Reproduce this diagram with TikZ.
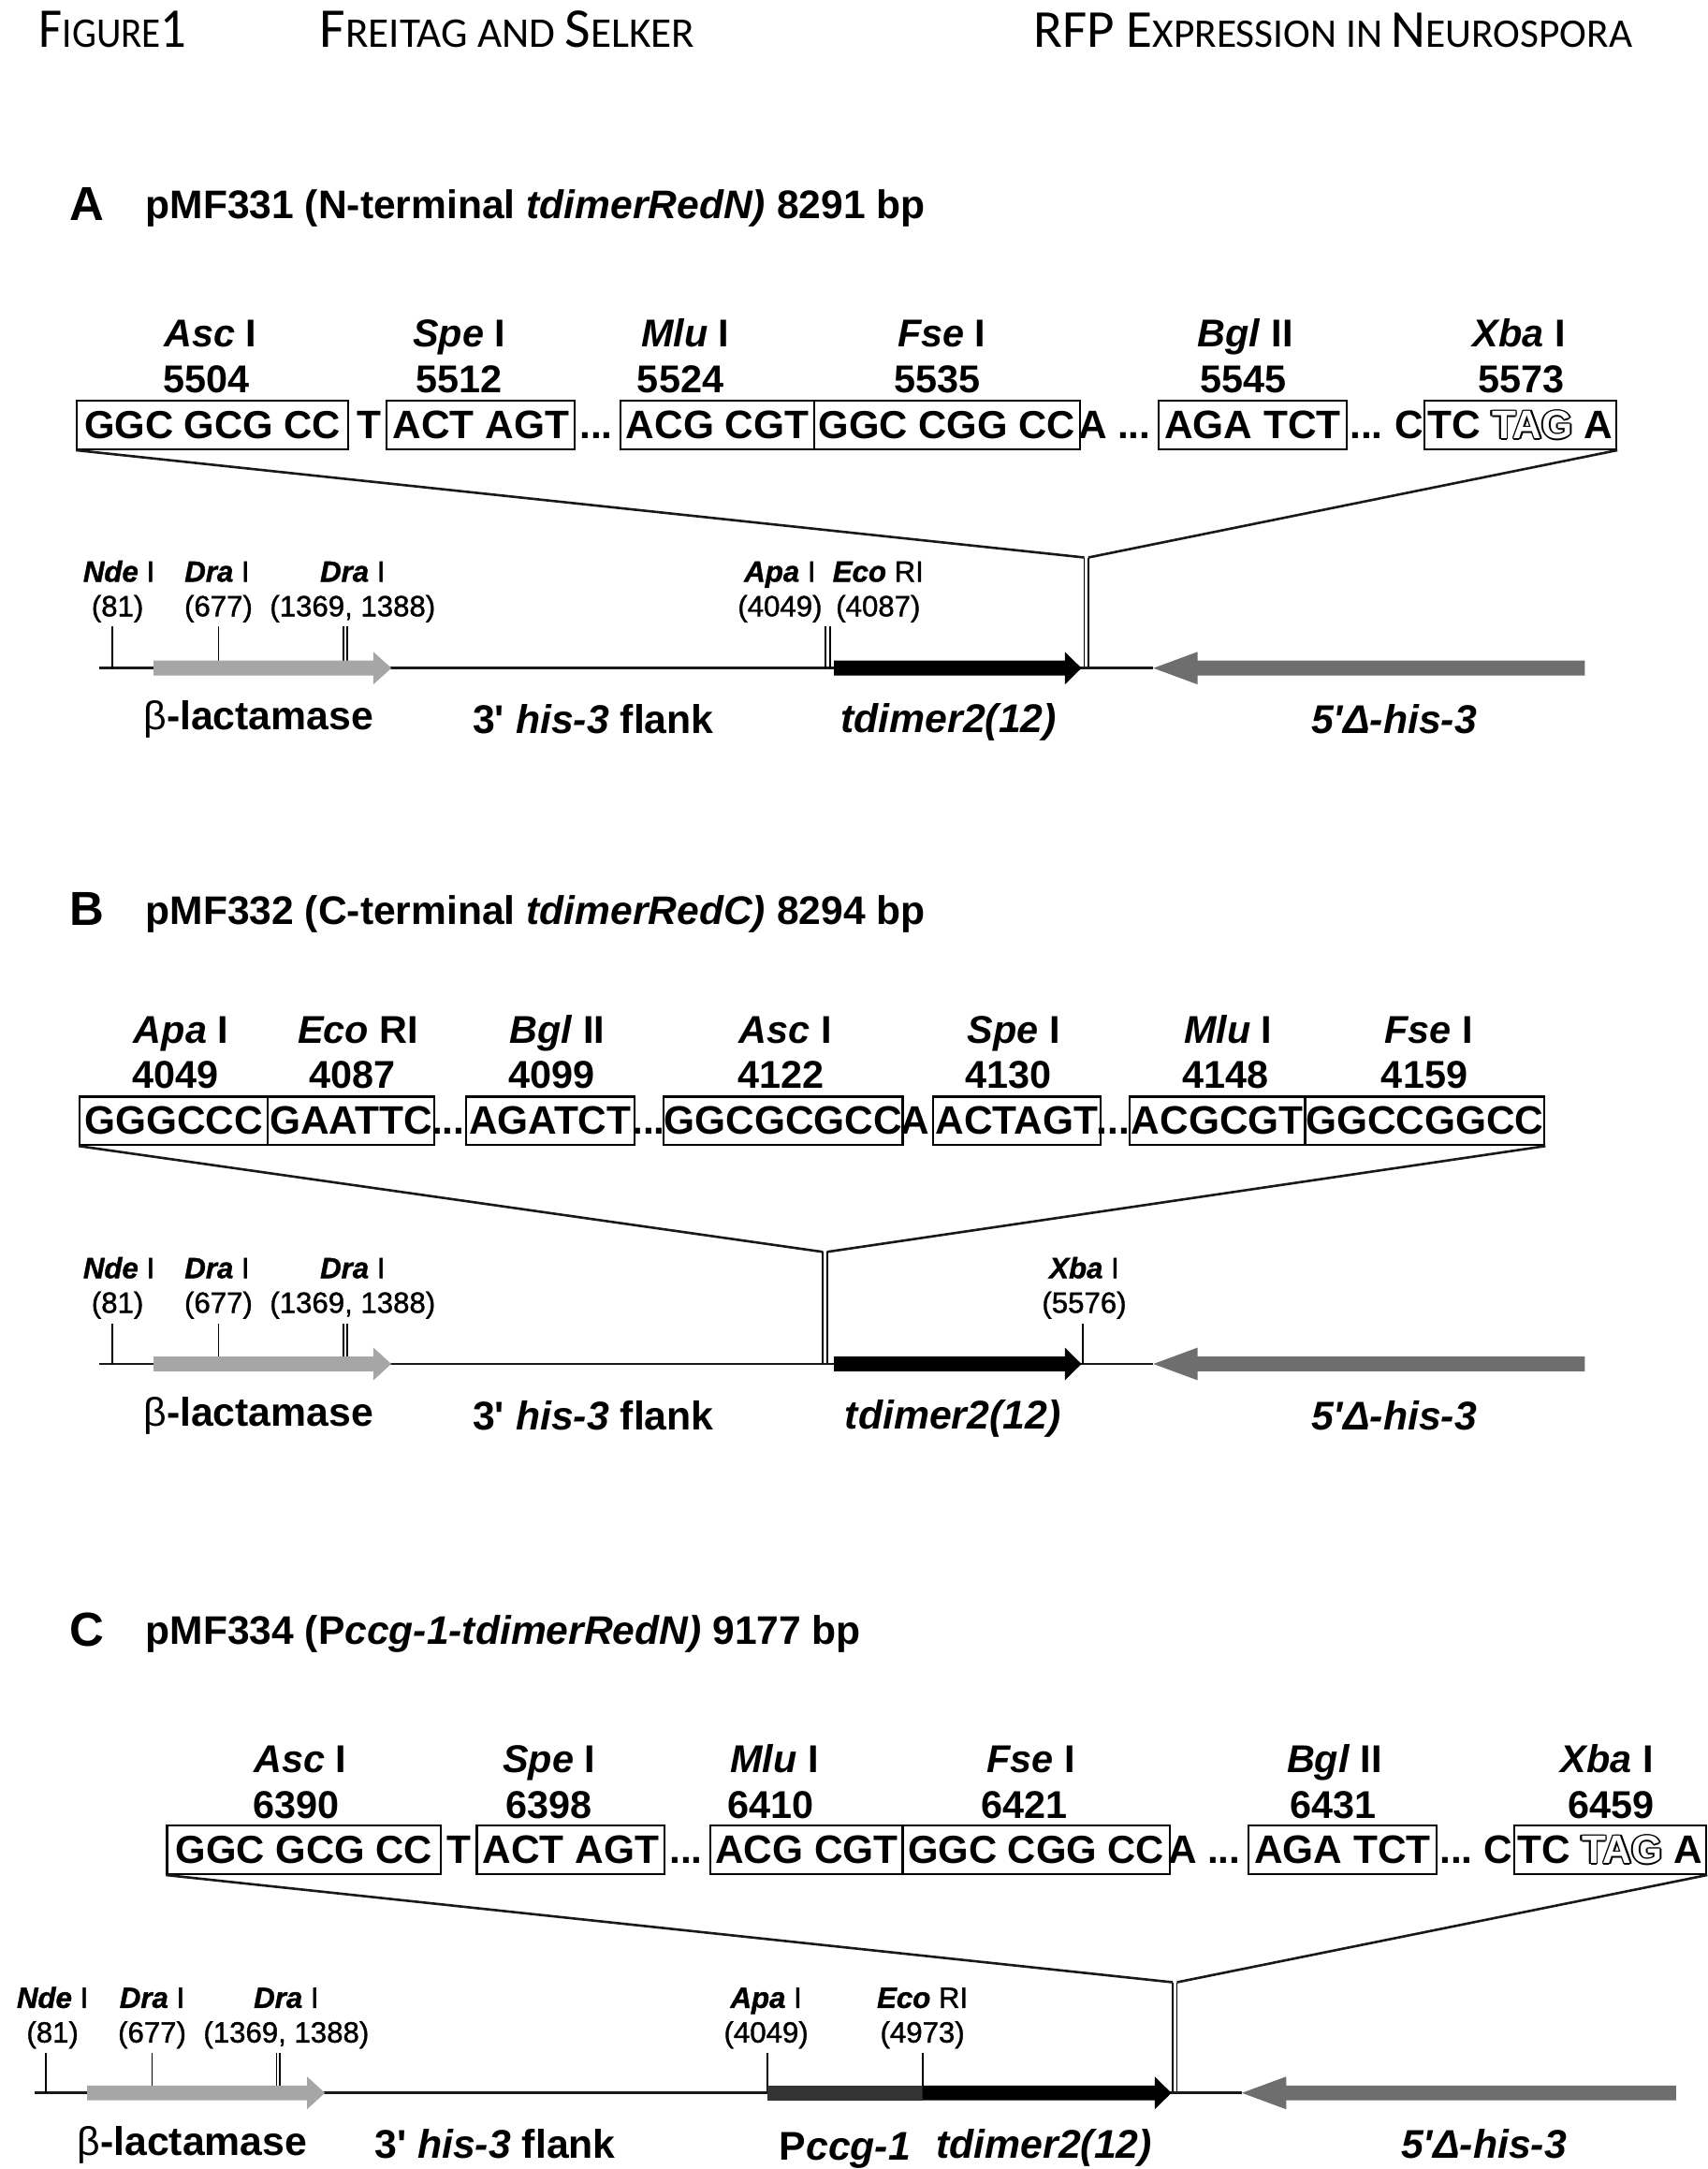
\documentclass[tikz,border=0pt]{standalone}
\usepackage{graphicx}
\usepackage{fontspec}
\setmainfont[Ligatures=TeXOff]{Liberation Sans}
\newfontfamily\headfont{Carlito}
\newfontfamily\semib[FakeBold=1.2,Ligatures=TeXOff]{Liberation Sans}
\newcommand{\fs}[1]{\fontsize{#1pt}{#1pt}\selectfont}
\newcommand{\Hc}[2]{{\fs{30}#1}{\fs{22.6}#2}}
\newcommand{\Hd}[2]{{\fs{28.5}#1}{\fs{21.7}#2}}
\newcommand{\Tcp}[3]{\rlap{\kern#1\raisebox{#2}{\textcolor{black}{#3}}}}
\newcommand{\Tagg}{\leavevmode\Tcp{.8pt}{0pt}{TAG}\Tcp{-.8pt}{0pt}{TAG}\Tcp{0pt}{.8pt}{TAG}\Tcp{0pt}{-.8pt}{TAG}\Tcp{.6pt}{.6pt}{TAG}\Tcp{-.6pt}{.6pt}{TAG}\Tcp{.6pt}{-.6pt}{TAG}\Tcp{-.6pt}{-.6pt}{TAG}\textcolor{white}{TAG}}
\newcommand{\Rz}[1]{\textit{\textbf{#1}}}
\tikzset{x=0.739pt,y=-0.739pt,
  seqbox/.style={draw=black,line width=1.1pt,inner sep=0pt,font=\bfseries\fs{21.2}},
  seqtxt/.style={inner sep=0pt,anchor=base,font=\bfseries\fs{21.2}},
  enz/.style={inner sep=0pt,anchor=base,font=\bfseries\fs{20.7}},
  small/.style={inner sep=0pt,anchor=base,font=\semib\fs{15.6}},
  head/.style={inner sep=0pt,anchor=base west,font=\headfont},
  ttl/.style={inner sep=0pt,anchor=base west,font=\bfseries\fs{21.3}},
  letter/.style={inner sep=0pt,anchor=base west,font=\bfseries\fs{25.5}},
  lab/.style={inner sep=0pt,anchor=base,font=\bfseries\fs{21.4}},
  wire/.style={line width=1.3pt,black!90},
  mainline/.style={line width=1.35pt,black!90},
  thin/.style={line width=0.9pt,black},
  bla/.style={fill=black!35},
  blk/.style={fill=black},
  his/.style={fill=black!57},
  pro/.style={fill=black!80}}
\newcommand{\sbx}[6]{\node[seqbox,minimum width={(#3-#2)*0.739pt},minimum height=25.86pt,anchor=north west] (#1) at (#2,#4) {\fs{#5}#6};}
\newcommand{\dna}[5][]{\fill[#1] (#2,#5-5.4) -- (#4,#5-5.4) -- (#4,#5-11.8) -- (#3,#5) -- (#4,#5+11.8) -- (#4,#5+5.4) -- (#2,#5+5.4) -- cycle;}
\begin{document}
\begin{tikzpicture}
\useasboundingbox (0,0) rectangle (1235,1568);
\fill[white] (0,0) rectangle (1235,1568);
% header
\node[head] (h1) at (28,34) {\scalebox{0.91}[1]{\Hc{F}{IGURE}{\fs{30}1}}};
\node[head] (h2) at (231,34) {\Hc{F}{REITAG AND }\Hc{S}{ELKER}};
\node[head] (h3) at (747,34) {\Hd{RFP E}{XPRESSION IN }\Hd{N}{EUROSPORA}};
%%%%%% A
\node[letter] (la) at (50,159.5) {A};
\node[ttl] (ta) at (105,158) {pMF331 (N-terminal \textit{tdimerRedN)} 8291 bp};
\foreach \n/\x/\e/\r in {1/152/Asc/I,2/332/Spe/I,3/495.5/Mlu/I,4/681/Fse/I,5/900.5/Bgl/II,6/1098.5/Xba/I}{
  \node[enz] (ae\n) at (\x,250.5) {\textit{\e} \r};
}
\node[enz] (an1) at (149,284) {5504};
\node[enz] (an2) at (332,284) {5512};
\node[enz] (an3) at (492,284) {5524};
\node[enz] (an4) at (678,284) {5535};
\node[enz] (an5) at (899,284) {5545};
\node[enz] (an6) at (1100,284) {5573};
\sbx{ab1}{55}{251}{289}{20.9}{GGC GCG CC}
\sbx{ab2}{279}{415}{289}{21.2}{ACT AGT}
\sbx{ab3}{448}{588}{289}{21.2}{ACG CGT}
\sbx{ab4}{588}{780}{289}{20.9}{GGC CGG CC}
\sbx{ab5}{837}{973}{289}{21.2}{AGA TCT}
\sbx{ab6}{1029}{1168}{289}{21.2}{TC \Tagg{} A}
\node[seqtxt] (as1) at (267,317) {T};
\node[seqtxt] (as2) at (431,317) {...};
\node[seqtxt] (as3) at (790,317) {A};
\node[seqtxt] (as4) at (820,317) {...};
\node[seqtxt] (as5) at (988,317) {...};
\node[seqtxt] (as6) at (1019,317) {C};
\coordinate (ai1) at (784,403); \coordinate (ai2) at (787,403);
\draw[wire] (ab1.south west) -- (ai1);
\draw[wire] (ab6.south east) -- (ai2);
\draw[thin] (ai1) -- (784,483);
\draw[thin] (ai2) -- (787,483);
\draw[mainline] (72,483) -- (834,483);
\foreach \x in {81.3,158,248.4,251,597,600}{\draw[thin] (\x,453) -- (\x,483);}
\dna[bla]{111}{283}{270}{483}
\dna[blk]{603}{782}{770}{483}
\dna[his]{1146}{834}{866}{483}
\node[small] (ar1) at (86,420.5) {\Rz{Nde} I};
\node[small] (ar2) at (157,420.5) {\Rz{Dra} I};
\node[small] (ar3) at (255,420.5) {\Rz{Dra} I};
\node[small] (ar4) at (564,420.5) {\Rz{Apa} I};
\node[small] (ar5) at (635,420.5) {\Rz{Eco} RI};
\node[small] (ap1) at (85,445.5) {(81)};
\node[small] (ap2) at (158,445.5) {(677)};
\node[small] (ap3) at (255,445.5) {(1369, 1388)};
\node[small] (ap4) at (564,445.5) {(4049)};
\node[small] (ap5) at (635,445.5) {(4087)};
\node[lab] (al1) at (187,527.5) {{\mdseries β}-lactamase};
\node[lab] (al2) at (429,530.5) {3' \textit{his-3} flank};
\node[lab] (al3) at (686,529.5) {\textit{tdimer2(12)}};
\node[lab] (al4) at (1008,530.5) {\textit{5'Δ-his-3}};
%%%%%% B
\node[letter] (lb) at (50,669) {B};
\node[ttl] (tb) at (105,668) {pMF332 (C-terminal \textit{tdimerRedC)} 8294 bp};
\node[enz] (be1) at (131,754) {\textit{Apa} I};
\node[enz] (be2) at (259,754) {\textit{Eco} RI};
\node[enz] (be3) at (403,754) {\textit{Bgl} II};
\node[enz] (be4) at (568,754) {\textit{Asc} I};
\node[enz] (be5) at (733,754) {\textit{Spe} I};
\node[enz] (be6) at (888,754) {\textit{Mlu} I};
\node[enz] (be7) at (1033,754) {\textit{Fse} I};
\node[enz] (bn1) at (127,787) {4049};
\node[enz] (bn2) at (255,787) {4087};
\node[enz] (bn3) at (399,787) {4099};
\node[enz] (bn4) at (565,787) {4122};
\node[enz] (bn5) at (729,787) {4130};
\node[enz] (bn6) at (886,787) {4148};
\node[enz] (bn7) at (1030,787) {4159};
\sbx{bb1}{57}{193}{792}{21.2}{GGGCCC}
\sbx{bb2}{193}{313}{792}{21.2}{GAATTC}
\sbx{bb3}{336}{458}{792}{21.2}{AGATCT}
\sbx{bb4}{479}{652}{792}{21.2}{GGCGCGCC}
\sbx{bb5}{674}{795}{792}{21.2}{ACTAGT}
\sbx{bb6}{816}{943}{792}{21.2}{ACGCGT}
\sbx{bb7}{943}{1116}{792}{21.2}{GGCCGGCC}
\node[seqtxt] (bs1) at (324,820) {...};
\node[seqtxt] (bs2) at (469,820) {...};
\node[seqtxt] (bs3) at (662,820) {A};
\node[seqtxt] (bs4) at (805,820) {...};
\coordinate (bi1) at (595,905); \coordinate (bi2) at (598,905);
\draw[wire] (bb1.south west) -- (bi1);
\draw[wire] (bb7.south east) -- (bi2);
\draw[thin] (bi1) -- (595,986);
\draw[thin] (bi2) -- (598,986);
\draw[mainline] (72,986) -- (834,986);
\foreach \x in {81.3,158,248.4,251,783}{\draw[thin] (\x,957) -- (\x,986);}
\dna[bla]{111}{283}{270}{986}
\dna[blk]{603}{782}{770}{986}
\dna[his]{1146}{834}{866}{986}
\node[small] (br1) at (86,924) {\Rz{Nde} I};
\node[small] (br2) at (157,924) {\Rz{Dra} I};
\node[small] (br3) at (255,924) {\Rz{Dra} I};
\node[small] (br4) at (784,924) {\Rz{Xba} I};
\node[small] (bp1) at (85,949) {(81)};
\node[small] (bp2) at (158,949) {(677)};
\node[small] (bp3) at (255,949) {(1369, 1388)};
\node[small] (bp4) at (784,949) {(5576)};
\node[lab] (bl1) at (187,1031) {{\mdseries β}-lactamase};
\node[lab] (bl2) at (429,1034) {3' \textit{his-3} flank};
\node[lab] (bl3) at (689,1033) {\textit{tdimer2(12)}};
\node[lab] (bl4) at (1008,1034) {\textit{5'Δ-his-3}};
%%%%%% C
\node[letter] (lc) at (50,1190) {C};
\node[ttl] (tc) at (105,1189) {pMF334 (P\textit{ccg-1-tdimerRedN)} 9177 bp};
\node[enz] (ce1) at (217,1281.5) {\textit{Asc} I};
\node[enz] (ce2) at (397,1281.5) {\textit{Spe} I};
\node[enz] (ce3) at (560,1281.5) {\textit{Mlu} I};
\node[enz] (ce4) at (745.5,1281.5) {\textit{Fse} I};
\node[enz] (ce5) at (965,1281.5) {\textit{Bgl} II};
\node[enz] (ce6) at (1162,1281.5) {\textit{Xba} I};
\node[enz] (cn1) at (214,1314.5) {6390};
\node[enz] (cn2) at (397,1314.5) {6398};
\node[enz] (cn3) at (557,1314.5) {6410};
\node[enz] (cn4) at (741,1314.5) {6421};
\node[enz] (cn5) at (964,1314.5) {6431};
\node[enz] (cn6) at (1165,1314.5) {6459};
\sbx{cb1}{120}{318}{1319}{20.9}{GGC GCG CC}
\sbx{cb2}{344}{480}{1319}{21.2}{ACT AGT}
\sbx{cb3}{513}{652}{1319}{21.2}{ACG CGT}
\sbx{cb4}{652}{845}{1319}{20.9}{GGC CGG CC}
\sbx{cb5}{902}{1038}{1319}{21.2}{AGA TCT}
\sbx{cb6}{1094}{1233}{1319}{21.2}{TC \Tagg{} A}
\node[seqtxt] (cs1) at (332,1347) {T};
\node[seqtxt] (cs2) at (496,1347) {...};
\node[seqtxt] (cs3) at (855,1347) {A};
\node[seqtxt] (cs4) at (885,1347) {...};
\node[seqtxt] (cs5) at (1053,1347) {...};
\node[seqtxt] (cs6) at (1083,1347) {C};
\coordinate (ci1) at (848,1433); \coordinate (ci2) at (851,1433);
\draw[wire] (cb1.south west) -- (ci1);
\draw[wire] (cb6.south east) -- (ci2);
\draw[thin] (ci1) -- (848,1513);
\draw[thin] (ci2) -- (851,1513);
\draw[mainline] (25,1513) -- (898,1513);
\foreach \x in {33,110,200,202.6,555,667}{\draw[thin] (\x,1484) -- (\x,1513);}
\dna[bla]{63}{235}{222}{1513}
\fill[pro] (555,1507.6) rectangle (667,1518.4);
\dna[blk]{667}{847}{835}{1513}
\dna[his]{1212}{898}{930}{1513}
\node[small] (cr1) at (38,1451.5) {\Rz{Nde} I};
\node[small] (cr2) at (110,1451.5) {\Rz{Dra} I};
\node[small] (cr3) at (207,1451.5) {\Rz{Dra} I};
\node[small] (cr4) at (554,1451.5) {\Rz{Apa} I};
\node[small] (cr5) at (667,1451.5) {\Rz{Eco} RI};
\node[small] (cp1) at (38,1476.5) {(81)};
\node[small] (cp2) at (110,1476.5) {(677)};
\node[small] (cp3) at (207,1476.5) {(1369, 1388)};
\node[small] (cp4) at (554,1476.5) {(4049)};
\node[small] (cp5) at (667,1476.5) {(4973)};
\node[lab] (cl1) at (139,1558.5) {{\mdseries β}-lactamase};
\node[lab] (cl2) at (358,1560.5) {3' \textit{his-3} flank};
\node[lab] (cl3) at (611,1561.5) {P\textit{ccg-1}};
\node[lab] (cl4) at (755,1560.5) {\textit{tdimer2(12)}};
\node[lab] (cl5) at (1073,1560.5) {\textit{5'Δ-his-3}};
\end{tikzpicture}
\end{document}
